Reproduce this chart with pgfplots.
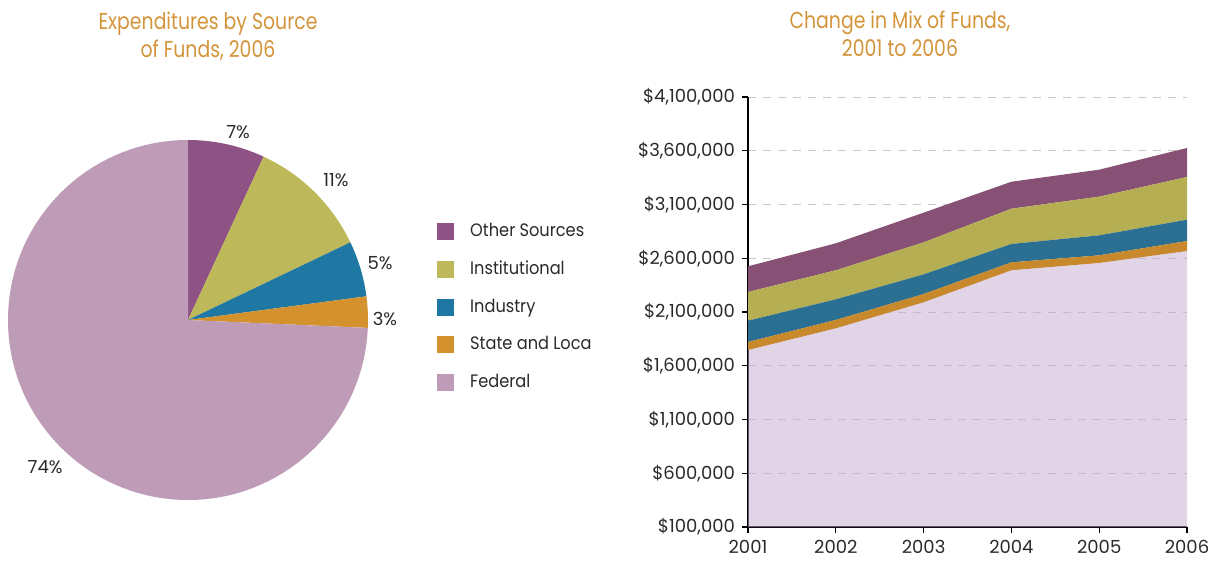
\documentclass[border=0pt]{standalone}
\usepackage{pgfplots}
\pgfplotsset{compat=1.18}
\usepackage{fontspec}
\setmainfont{Poppins}
\newfontfamily\titlefont{Poppins}[FakeStretch=0.82]
\newfontfamily\legfont{Poppins}[FakeStretch=0.9]
\definecolor{titlecol}{HTML}{D4943A}
\definecolor{txt}{HTML}{2A2A2A}
\definecolor{pOther}{HTML}{8E5384}
\definecolor{pInst}{HTML}{BDB95A}
\definecolor{pInd}{HTML}{1F78A4}
\definecolor{pState}{HTML}{D4922E}
\definecolor{pFed}{HTML}{BE9CB8}
\definecolor{aOther}{HTML}{875175}
\definecolor{aInst}{HTML}{B5AE53}
\definecolor{aInd}{HTML}{2B7092}
\definecolor{aState}{HTML}{C8882C}
\definecolor{aFed}{HTML}{C4A9D0}
\definecolor{gridc}{HTML}{C8C8C8}
\begin{document}
\begin{tikzpicture}
\useasboundingbox (0,0) rectangle (610.5pt,281.5pt);
% titles
\node[titlecol, font=\titlefont\fontsize{11.5}{14}\selectfont, align=center] at (104pt,263.5pt) {Expenditures by Source\\of Funds, 2006};
\node[titlecol, font=\titlefont\fontsize{11.5}{14}\selectfont, align=center] at (450pt,264.5pt) {Change in Mix of Funds,\\2001 to 2006};
% pie
\begin{axis}[name=pie, at={(94pt,121.5pt)}, anchor=center, scale only axis,
  width=180pt, height=180pt, xmin=-1, xmax=1, ymin=-1, ymax=1, hide axis, clip=false,
  legend style={at={(axis description cs:1.1917,0.772)}, anchor=north west, draw=none, fill=none,
    inner sep=0pt, row sep=9.9pt, font=\legfont\fontsize{9}{11}\selectfont\color{txt},
    nodes={inner sep=0pt, text height=7pt, text depth=2pt}, column sep=8pt},
  legend cell align=left,
  legend image code/.code={\fill[#1] (0pt,-4pt) rectangle (8pt,4pt);}]
\addlegendimage{pOther}\addlegendentry{Other Sources}
\addlegendimage{pInst}\addlegendentry{Institutional}
\addlegendimage{pInd}\addlegendentry{Industry}
\addlegendimage{pState}\addlegendentry{State and Loca}
\addlegendimage{pFed}\addlegendentry{Federal}
\xdef\cum{0}
\foreach \v/\c in {6.9/pOther, 11.0/pInst, 5.0/pInd, 2.8/pState, 74.3/pFed} {
  \pgfmathsetmacro\a{90-3.6*\cum}
  \pgfmathsetmacro\b{90-3.6*(\cum+\v)}
  \edef\temp{\noexpand\fill[\c] (axis cs:0,0) -- (axis cs:{cos(\a)},{sin(\a)}) arc[start angle=\a, end angle=\b, radius=90pt] -- cycle;}
  \temp
  \pgfmathsetmacro\newcum{\cum+\v}
  \xdef\cum{\newcum}
}
\node[txt, font=\fontsize{9}{11}\selectfont] at (axis cs:0.278,1.044) {7\%};
\node[txt, font=\fontsize{9}{11}\selectfont] at (axis cs:0.822,0.778) {11\%};
\node[txt, font=\fontsize{9}{11}\selectfont] at (axis cs:1.067,0.317) {5\%};
\node[txt, font=\fontsize{9}{11}\selectfont] at (axis cs:1.094,0.006) {3\%};
\node[txt, font=\fontsize{9}{11}\selectfont] at (axis cs:-0.794,-0.817) {74\%};
\end{axis}
% stacked area
\begin{axis}[at={(374pt,18pt)}, anchor=south west, scale only axis,
  width=219.5pt, height=215pt,
  xmin=2001, xmax=2006, ymin=100000, ymax=4100000,
  xtick={2001,2002,2003,2004,2005,2006},
  ytick={100000,600000,1100000,1600000,2100000,2600000,3100000,3600000,4100000},
  scaled y ticks=false,
  /pgf/number format/assume math mode=true,
  x tick label style={/pgf/number format/1000 sep=},
  yticklabel={\$\pgfmathprintnumber[fixed,1000 sep={,}]{\tick}},
  tick label style={font=\fontsize{9}{11}\selectfont, text=txt},
  axis lines*=left, axis line style={line width=0.6pt, black},
  tick align=outside, major tick length=3pt, tick style={black, line width=0.6pt},
  ymajorgrids, grid style={gridc, line width=0.5pt, dash pattern=on 4pt off 3.5pt},
  stack plots=y, clip=true]
\addplot[draw=none, fill=aFed, fill opacity=0.5] coordinates {(2001,1746000) (2002,1948000) (2003,2190000) (2004,2488000) (2005,2556000) (2006,2667000)} \closedcycle;
\addplot[draw=none, fill=aState] coordinates {(2001,75000) (2002,78000) (2003,77000) (2004,74000) (2005,71000) (2006,93000)} \closedcycle;
\addplot[draw=none, fill=aInd] coordinates {(2001,198000) (2002,192000) (2003,183000) (2004,171000) (2005,186000) (2006,199000)} \closedcycle;
\addplot[draw=none, fill=aInst] coordinates {(2001,267000) (2002,270000) (2003,298000) (2004,328000) (2005,360000) (2006,397000)} \closedcycle;
\addplot[draw=none, fill=aOther] coordinates {(2001,239000) (2002,251000) (2003,276000) (2004,251000) (2005,251000) (2006,270000)} \closedcycle;
\end{axis}
\end{tikzpicture}
\end{document}
